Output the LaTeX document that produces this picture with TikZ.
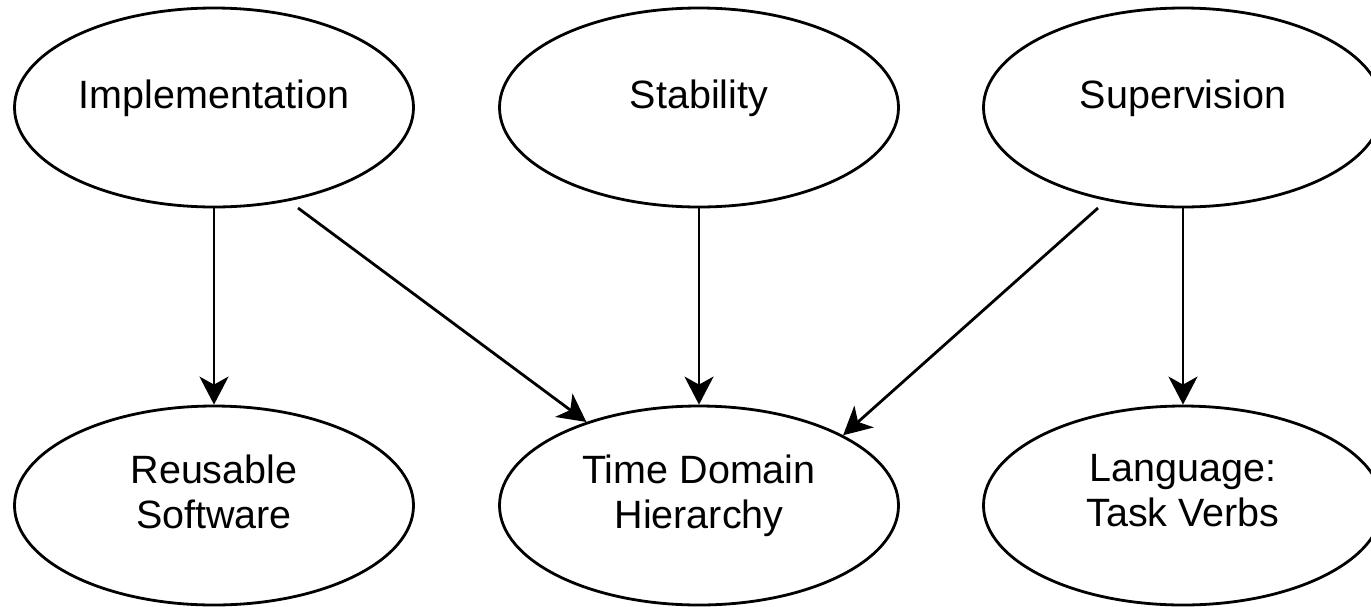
\documentclass[tikz,border=0pt]{standalone}
\usepackage{fontspec}
\setmainfont{Liberation Sans}
\usetikzlibrary{shapes.geometric,arrows.meta,calc}

\begin{document}
\begin{tikzpicture}[
    x=1pt, y=-1pt,
    oval/.style={ellipse, draw=black, line width=2.8pt, fill=white,
                 minimum width=399pt, minimum height=199pt, inner sep=0pt},
    caption/.style={anchor=north, inner sep=0pt, align=center,
                    font=\fontsize{39.5}{45}\selectfont},
    arr/.style={line width=2.8pt,
                -{Stealth[length=28pt, width=29pt, inset=8pt]}}
  ]
  \useasboundingbox (0,0) rectangle (1371,606);
  \clip (0,0) rectangle (1371,606);

  % upper row
  \node[oval] (impl) at (214,107.5) {};
  \node[oval] (stab) at (699,107.5) {};
  \node[oval] (sup)  at (1183,107.5) {};
  % lower row
  \node[oval] (reuse) at (214,505.5) {};
  \node[oval] (tdh)   at (699,505.5) {};
  \node[oval] (lang)  at (1183,505.5) {};

  % texts
  \node[caption] (implT)  at ($(impl.center)+(0,-28)$) {Implementation};
  \node[caption] (stabT)  at ($(stab.center)+(0,-28)$) {Stability};
  \node[caption] (supT)   at ($(sup.center)+(0,-28)$) {Supervision};
  \node[caption] (reuseT) at ($(reuse.center)+(0,-51)$) {Reusable\\Software};
  \node[caption] (tdhT)   at ($(tdh.center)+(0,-51)$) {Time Domain\\Hierarchy};
  \node[caption] (langT)  at ($(lang.center)+(0,-51)$) {Language:\\Task Verbs};

  % loose ends of the slanted connectors
  \coordinate (implout) at ($(impl.center)+(84,100.5)$);
  \coordinate (supout)  at ($(sup.center)+(-85,100.5)$);

  % connectors
  \draw[arr] (impl) -- (reuse);
  \draw[arr] (stab) -- (tdh);
  \draw[arr] (sup) -- (lang);
  \draw[arr] (implout) -- (tdh);
  \draw[arr] (supout) -- (tdh.26);
\end{tikzpicture}
\end{document}
